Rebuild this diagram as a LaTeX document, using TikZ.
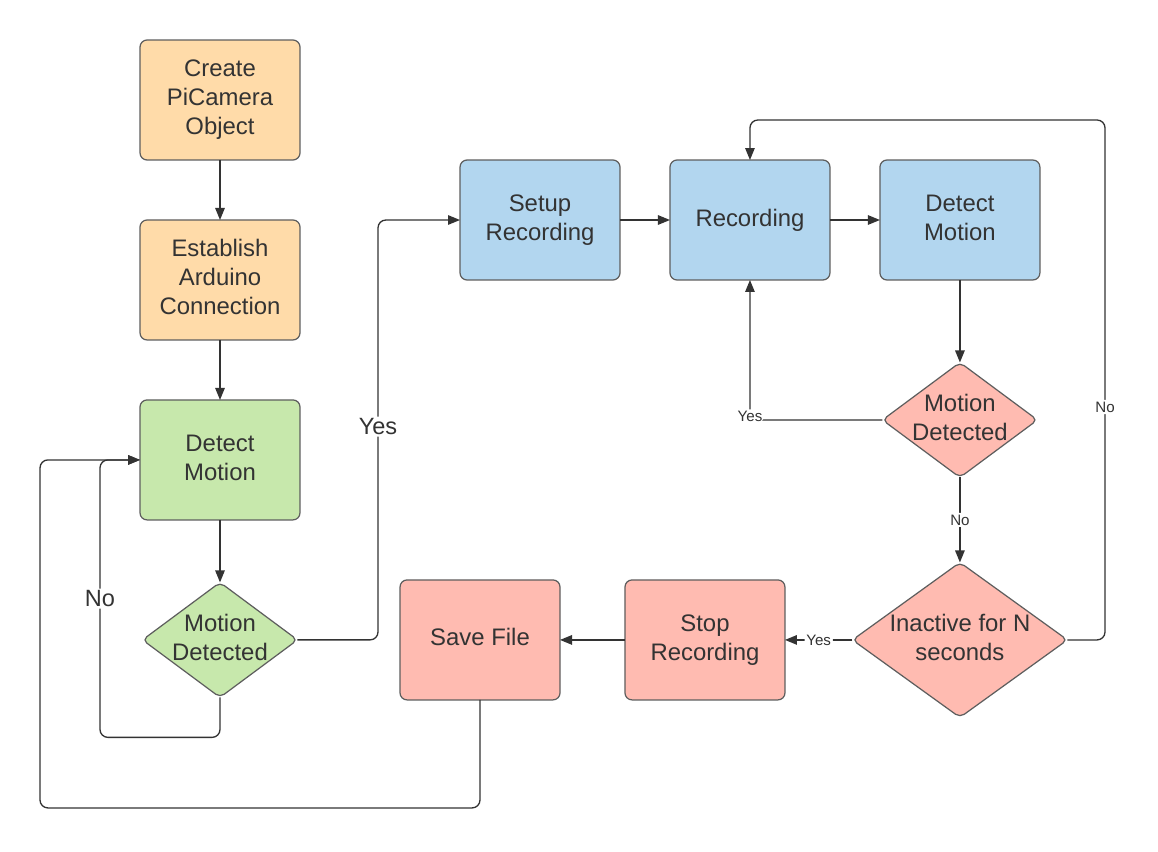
\documentclass[tikz,border=0pt]{standalone}
\usepackage{fontspec}
\setmainfont{Liberation Sans}
\usetikzlibrary{shapes.geometric, arrows.meta, positioning, calc}
\definecolor{startFill}{RGB}{255, 219, 169}
\definecolor{waitFill}{RGB}{199, 232, 172}
\definecolor{recFill}{RGB}{178, 214, 239}
\definecolor{stopFill}{RGB}{255, 187, 177}
\definecolor{lineColor}{RGB}{51, 51, 51}
\definecolor{borderColor}{RGB}{94, 94, 94}
\definecolor{textColor}{RGB}{51, 51, 51}

\begin{document}
\begin{tikzpicture}[x=0.02cm, y=-0.02cm]

% Style definitions
\tikzset{
    base/.style={
        draw=borderColor, line width=0.7pt, text=textColor, align=center, outer sep=0pt,
        font=\fontsize{13.6}{16.5}\selectfont
    },
    box/.style={
        base, rectangle, rounded corners=4pt, minimum width=3.2cm, minimum height=2.4cm,
        inner sep=2pt, text depth=0.3em
    },
    decision/.style={
        base, diamond, rounded corners=3pt, inner sep=0pt, minimum width=3.1cm, minimum height=2.3cm
    },
    dtext/.style={text=textColor, align=center, text depth=0.3em, font=\fontsize{13.6}{16.5}\selectfont},
    wire/.style={
        draw=lineColor, line width=0.75pt, -{Triangle[length=0.24cm, width=0.19cm]}, rounded corners=4.5pt
    },
    biglabel/.style={fill=white, inner sep=1pt, text=textColor, font=\fontsize{13.4}{16}\selectfont},
    smalllabel/.style={fill=white, inner sep=1pt, text=textColor, font=\fontsize{8.6}{10}\selectfont}
}

\useasboundingbox (0,0) rectangle (1158,851);

% Start-up
\node (create) [box, fill=startFill] at (220,100) {Create\\PiCamera\\Object};
\node (establish) [box, fill=startFill, below=1.2cm of create] {Establish\\Arduino\\Connection};

% Waiting for motion
\node (detect_a) [box, fill=waitFill, below=1.2cm of establish] {Detect\\Motion};
\node (check_a) [decision, fill=waitFill, below=1.25cm of detect_a,
    label={[dtext]center:Motion\\Detected}] {};

% Recording loop
\node (setup) [box, fill=recFill] at (540,220) {Setup\\Recording};
\node (recording) [box, fill=recFill, right=1cm of setup] {Recording};
\node (detect_b) [box, fill=recFill, right=1cm of recording] {Detect\\Motion};
\node (check_b) [decision, fill=stopFill, below=1.65cm of detect_b,
    label={[dtext]center:Motion\\Detected}] {};
\node (inactive) [decision, fill=stopFill, below=1.7cm of check_b, minimum width=4.3cm, minimum height=3.1cm,
    label={[dtext]center:Inactive for N\\seconds}] {};

% Shut-down
\node (stop) [box, fill=stopFill, left=1.35cm of inactive] {Stop\\Recording};
\node (save) [box, fill=stopFill, left=1.3cm of stop] {Save File};

% Connections
\draw [wire] (create) -- (establish);
\draw [wire] (establish) -- (detect_a);
\draw [wire] (detect_a) -- (check_a);

\coordinate (no_turn) at ($(check_a.south)+(-120,40)$);
\draw [wire] (check_a.south) |- (no_turn) |- node[pos=0.25, biglabel] {No} (detect_a.west);

\coordinate (back_turn) at ($(save.south)+(-440,108)$);
\draw [wire] (save.south) |- (back_turn) |- (detect_a.west);

\coordinate (yes_bend) at ($(check_a.east)+(80.5,0)$);
\draw [wire] (check_a.east) -- (yes_bend) |- node[pos=0.254, biglabel] {Yes} (setup.west);

\draw [wire] (setup) -- (recording);
\draw [wire] (recording) -- (detect_b);
\draw [wire] (detect_b) -- (check_b);

\draw [wire] (check_b.west) -| node[pos=0.5, smalllabel, yshift=2pt] {Yes} (recording.south);
\draw [wire] (check_b.south) -- node[smalllabel] {No} (inactive.north);

\coordinate (no_bend) at (1105,120);
\draw [wire] (inactive.east) -| node[pos=0.724, smalllabel] {No} (no_bend) -| (recording.north);

\draw [wire] (inactive.west) -- node[smalllabel] {Yes} (stop.east);
\draw [wire] (stop) -- (save);

\end{tikzpicture}
\end{document}
